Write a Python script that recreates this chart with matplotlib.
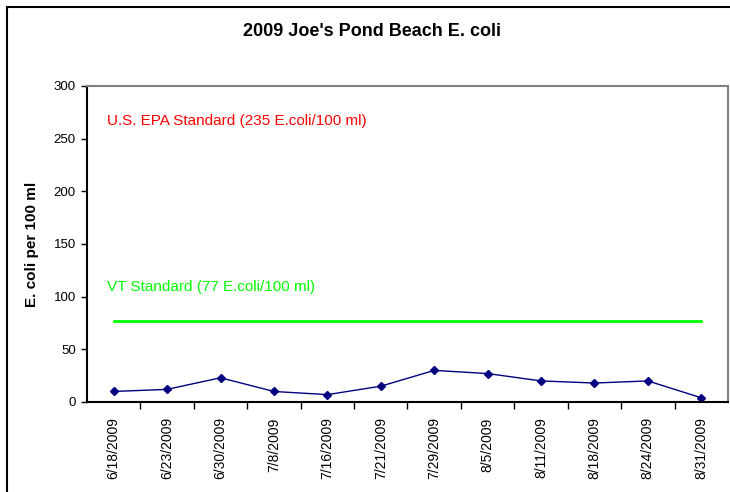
import matplotlib
matplotlib.use('Agg')
import matplotlib.pyplot as plt
from matplotlib.patches import Rectangle

# data
dates = ['6/18/2009', '6/23/2009', '6/30/2009', '7/8/2009', '7/16/2009', '7/21/2009',
         '7/29/2009', '8/5/2009', '8/11/2009', '8/18/2009', '8/24/2009', '8/31/2009']
ecoli = [10, 12, 23, 10, 7, 15, 30, 27, 20, 18, 20, 4]
vt_standard = [77] * len(dates)
epa_label = 'U.S. EPA Standard (235 E.coli/100 ml)'
vt_label = 'VT Standard (77 E.coli/100 ml)'
yticks = [0, 50, 100, 150, 200, 250, 300]

plt.rcParams['font.family'] = ['Liberation Sans', 'DejaVu Sans']

fig = plt.figure(figsize=(7.3, 4.92), dpi=100)
ax = fig.add_axes([87 / 730, 1 - 402 / 492, 641 / 730, 316 / 492])

x = list(range(len(dates)))
ax.plot(x, vt_standard, color='#00ff00', linewidth=2)
ax.plot(x, ecoli, color='#000080', linewidth=1, marker='D', markersize=4.5)

ax.set_xlim(-0.5, len(dates) - 0.5)
ax.set_ylim(0, 300)
ax.set_yticks(yticks)
ax.tick_params(axis='y', labelsize=9.5, length=4, width=1, direction='out', pad=4)

# category axis: ticks sit between categories
ax.set_xticks([i + 0.5 for i in x[:-1]])
ax.set_xticklabels([])
ax.set_xticks(x, minor=True)
ax.set_xticklabels(dates, minor=True, rotation=90, fontsize=10)
ax.tick_params(axis='x', which='major', length=5, width=1, direction='out')
ax.tick_params(axis='x', which='minor', length=0, pad=11)

for side in ['top', 'right']:
    ax.spines[side].set_color('#808080')
    ax.spines[side].set_linewidth(1.5)
for side in ['left', 'bottom']:
    ax.spines[side].set_linewidth(1.5)

ax.set_ylabel('E. coli per 100 ml', fontsize=11, fontweight='bold')
ax.yaxis.set_label_coords(-0.075, 0.5)

ax.text(-0.13, 267, epa_label, color='#ff0000', fontsize=11, va='center')
ax.text(-0.13, 109, vt_label, color='#00ff00', fontsize=11, va='center')

fig.text(372 / 730, 1 - 32 / 492, "2009 Joe's Pond Beach E. coli", ha='center', va='center',
         fontsize=13, fontweight='bold')

# chart area border
fig.patches.append(Rectangle((7 / 730, -0.1), 1.2, 1 - 7 / 492 + 0.1, transform=fig.transFigure,
                             fill=False, edgecolor='black', linewidth=1.5))

fig.savefig('out.png', dpi=100)
